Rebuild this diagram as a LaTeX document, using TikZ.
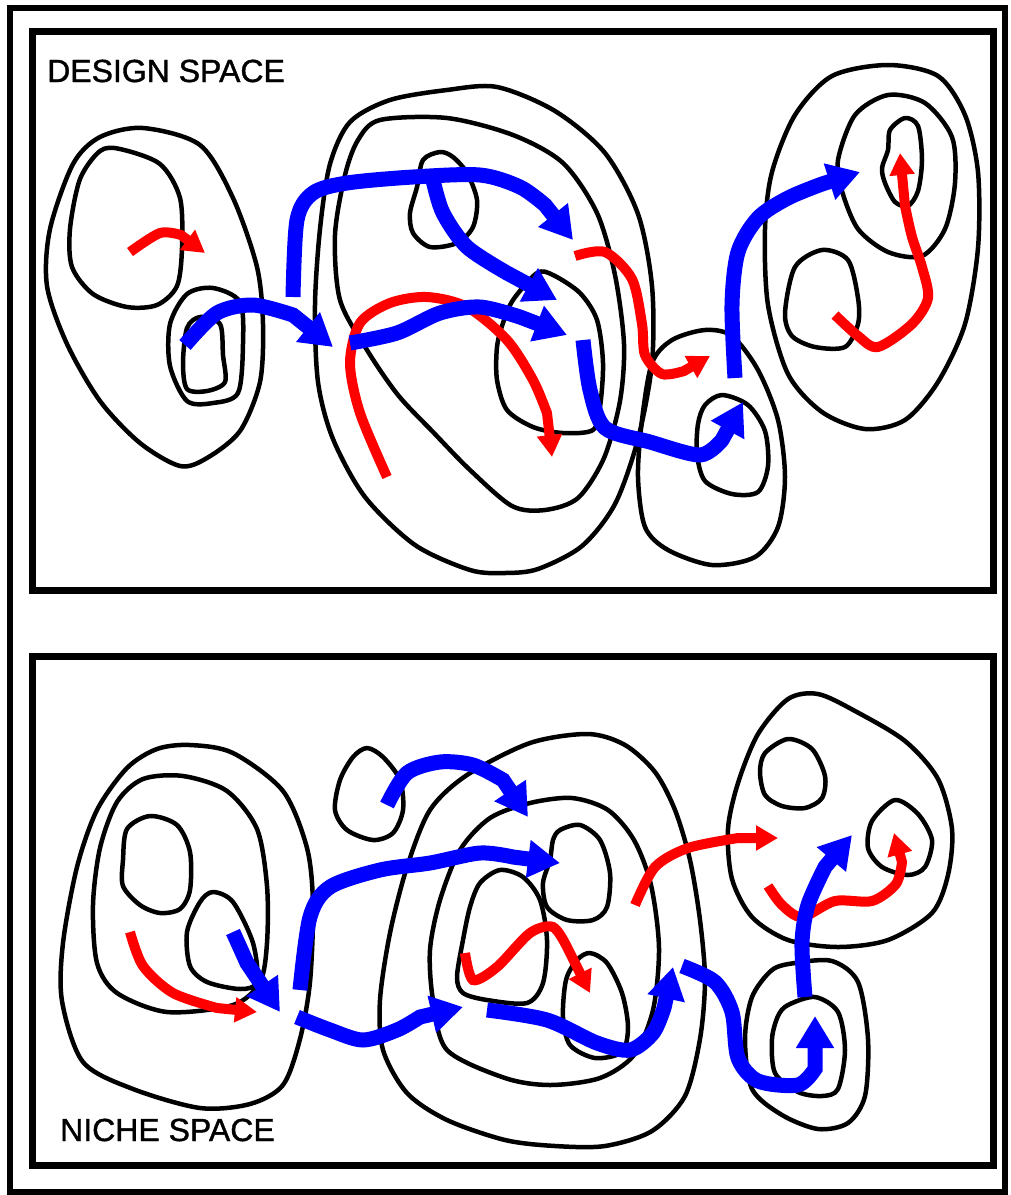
\documentclass[tikz,border=0pt]{standalone}
\usepackage{fontspec}
\setmainfont{Liberation Sans}
\newfontfamily\lblfont[FakeBold=1.2]{Liberation Sans}
\usetikzlibrary{arrows.meta}
\begin{document}
\begin{tikzpicture}[x=1pt,y=-1pt,
  contour/.style={draw=black,line width=4.5pt,line join=round},
  frame/.style={draw=black,line width=7pt},
  bluearr/.style={draw=blue,line width=15pt,-{Triangle[length=32pt,width=36pt]}},
  redarr/.style={draw=red,line width=10pt,-{Triangle[length=22pt,width=24pt]}},
  lbl/.style={anchor=base west,inner sep=0pt,font=\lblfont\fontsize{32}{36}\selectfont}]
\useasboundingbox (0,0) rectangle (1011,1195);
\fill[white] (0,0) rectangle (1011,1195);
% frames
\draw[black,line width=6pt] (10,8) rectangle (1005,1192);
\draw[frame] (32.5,31) rectangle (993,590);
\draw[frame] (32.5,656) rectangle (993,1165);
\node[lbl] (ds) at (47,82) {DESIGN SPACE};
\node[lbl] (ns) at (60,1141) {NICHE SPACE};

% ---------- top panel contours
\draw[contour] plot[smooth cycle] coordinates {(143,128) (200,145) (233,198) (257,267) (263,324) (260,382) (240,431) (207,458) (180,466) (140,443) (100,401) (67,344) (47,286) (50,229) (73,164) (100,137)};
\draw[contour] plot[smooth cycle] coordinates {(120,149) (160,164) (180,198) (182,248) (177,286) (157,305) (127,307) (93,294) (72,267) (70,229) (80,179) (100,151)};
\draw[contour] plot[smooth cycle] coordinates {(213,288) (240,302) (243,344) (238,393) (213,403) (187,401) (170,366) (170,324) (187,294)};
\draw[contour] plot[smooth cycle] coordinates {(200,317) (220,324) (223,355) (225,382) (207,391) (187,389) (183,363) (187,328)};
\draw[contour] plot[smooth cycle] coordinates {(447,90) (497,87) (555,111) (605,153) (638,214) (652,286) (652,363) (638,439) (615,504) (582,546) (538,569) (505,573) (470,570) (415,545) (365,497) (333,439) (318,382) (315,305) (320,229) (330,164) (350,122) (390,100)};
\draw[contour] plot[smooth cycle] coordinates {(380,120) (447,118) (513,135) (563,163) (597,213) (615,275) (624,344) (620,401) (604,458) (578,498) (545,510) (512,506) (470,470) (433,432) (398,395) (367,350) (340,300) (335,235) (345,175) (358,140)};
\draw[contour] plot[smooth cycle] coordinates {(423,160) (440,152) (453,157) (467,173) (477,200) (473,227) (457,243) (430,247) (413,233) (410,213) (417,187)};
\draw[contour] plot[smooth cycle] coordinates {(537,273) (553,275) (580,293) (597,320) (603,363) (600,407) (593,430) (563,433) (533,427) (507,410) (497,380) (497,347) (503,323) (513,300)};
\draw[contour] plot[smooth cycle] coordinates {(705,330) (732,336) (758,370) (778,420) (785,477) (778,527) (755,557) (712,565) (668,550) (645,527) (638,477) (642,420) (652,363) (672,340)};
\draw[contour] plot[smooth cycle] coordinates {(722,395) (748,405) (765,431) (768,466) (758,492) (732,494) (705,481) (697,454) (698,424) (705,405)};
\draw[contour] plot[smooth cycle] coordinates {(888,65) (938,76) (965,115) (978,172) (978,248) (965,324) (938,382) (905,420) (865,429) (822,412) (788,374) (768,305) (765,229) (772,172) (795,115) (832,76)};
\draw[contour] plot[smooth cycle] coordinates {(888,95) (925,103) (952,137) (955,183) (945,229) (922,256) (888,252) (858,229) (842,191) (838,160) (855,115)};
\draw[contour] plot[smooth cycle] coordinates {(905,118) (918,126) (922,160) (918,191) (908,206) (895,202) (885,183) (882,168) (888,150) (890,130)};
\draw[contour] plot[smooth cycle] coordinates {(822,250) (848,260) (858,298) (858,324) (845,347) (815,347) (792,336) (785,313) (795,267)};

% ---------- top panel arrows
\draw[redarr] plot[smooth] coordinates {(130,252) (160,233) (181,235)} -- (205,253);
\draw[redarr] plot[smooth] coordinates {(387,477) (360,413) (350,363) (360,323) (390,303) (427,297) (467,307) (507,340) (533,380) (547,413)} -- (552,457);
\draw[redarr] plot[smooth] coordinates {(575,256) (605,252) (632,279) (642,324) (645,355) (662,374) (684,371)} -- (710,356);
\draw[redarr] plot[smooth] coordinates {(835,315) (858,336) (878,347) (912,324) (928,298) (922,267) (912,237) (905,206)} -- (900,153);
\draw[bluearr] plot[smooth] coordinates {(185,345) (217,313) (253,305) (293,315)} -- (333,347);
\draw[bluearr] plot[smooth] coordinates {(293,297) (297,220) (313,193) (347,183) (413,177) (480,175) (520,187) (545,205)} -- (573,240);
\draw[bluearr] plot[smooth] coordinates {(433,180) (443,213) (467,247) (507,273)} -- (557,300);
\draw[bluearr] plot[smooth] coordinates {(350,343) (397,333) (440,313) (480,307) (520,317)} -- (567,335);
\draw[bluearr] plot[smooth] coordinates {(583,340) (590,390) (605,428) (650,442) (700,455) (722,440)} -- (743,402);
\draw[bluearr] plot[smooth] coordinates {(735,378) (732,305) (738,252) (758,218) (788,198) (822,184)} -- (860,172);

% ---------- bottom panel contours
\draw[contour] plot[smooth cycle] coordinates {(190,745) (233,753) (283,791) (307,848) (313,905) (310,982) (300,1039) (283,1085) (250,1104) (200,1108) (133,1089) (83,1062) (62,1001) (63,943) (77,867) (97,810) (127,768) (157,749)};
\draw[contour] plot[smooth cycle] coordinates {(183,776) (227,791) (257,829) (267,886) (267,943) (260,982) (233,1005) (167,1012) (117,993) (97,963) (93,905) (100,848) (117,802) (143,779)};
\draw[contour] plot[smooth cycle] coordinates {(150,816) (177,825) (190,852) (190,890) (180,909) (160,913) (140,905) (123,886) (123,860) (127,829)};
\draw[contour] plot[smooth cycle] coordinates {(213,892) (233,902) (253,943) (257,982) (240,989) (207,982) (190,966) (187,932) (200,902)};
\draw[contour] plot[smooth cycle] coordinates {(367,748) (383,757) (400,780) (403,810) (393,833) (373,840) (347,830) (335,810) (340,780) (353,757)};
\draw[contour] plot[smooth cycle] coordinates {(530,743) (588,734) (625,745) (655,772) (675,810) (690,860) (700,920) (705,980) (700,1039) (685,1096) (652,1131) (605,1146) (555,1146) (505,1140) (447,1120) (407,1093) (383,1050) (380,1000) (390,933) (407,867) (430,810) (467,775)};
\draw[contour] plot[smooth cycle] coordinates {(530,803) (572,798) (608,810) (634,840) (651,885) (659,948) (653,1010) (634,1055) (600,1078) (550,1085) (505,1078) (447,1050) (433,1000) (430,950) (440,900) (460,850) (490,818)};
\draw[contour] plot[smooth cycle] coordinates {(560,830) (580,825) (600,840) (610,873) (607,907) (593,920) (567,920) (547,907) (543,883) (550,860) (553,840)};
\draw[contour] plot[smooth cycle] coordinates {(500,870) (523,877) (540,900) (547,940) (543,983) (527,1003) (487,1000) (463,993) (457,977) (463,940) (470,907) (480,883)};
\draw[contour] plot[smooth cycle] coordinates {(590,953) (607,963) (622,993) (628,1027) (622,1052) (595,1058) (570,1045) (563,1017) (566,980) (577,960)};
\draw[contour] plot[smooth cycle] coordinates {(818,694) (855,711) (905,741) (938,779) (952,829) (948,875) (932,913) (888,940) (838,947) (788,940) (752,917) (732,879) (728,829) (738,783) (758,734) (788,699)};
\draw[contour] plot[smooth cycle] coordinates {(788,739) (812,749) (825,776) (822,798) (805,808) (782,806) (765,795) (760,772) (765,753)};
\draw[contour] plot[smooth cycle] coordinates {(895,800) (918,814) (932,840) (925,867) (908,875) (882,867) (868,848) (872,821)};
\draw[contour] plot[smooth cycle] coordinates {(795,963) (832,961) (858,982) (868,1039) (865,1096) (848,1123) (818,1129) (782,1115) (752,1089) (745,1039) (752,997) (772,970)};
\draw[contour] plot[smooth cycle] coordinates {(788,1005) (815,997) (838,1012) (845,1050) (838,1089) (822,1096) (798,1092) (775,1073) (772,1039) (778,1016)};

% ---------- bottom panel arrows
\draw[redarr] plot[smooth] coordinates {(130,932) (143,966) (173,993) (217,1008)} -- (257,1012);
\draw[redarr] plot[smooth] coordinates {(465,953) (473,980) (497,967) (530,933) (553,927) (567,947)} -- (590,993);
\draw[redarr] plot[smooth] coordinates {(635,905) (655,867) (688,848) (738,838)} -- (778,838);
\draw[redarr] plot[smooth] coordinates {(768,886) (782,905) (802,917) (835,901) (872,901) (896,884) (902,862)} -- (894,833);
\draw[bluearr] plot[smooth] coordinates {(387,805) (407,773) (440,762) (473,765) (503,780)} -- (528,817);
\draw[bluearr] plot[smooth] coordinates {(300,990) (310,917) (330,887) (380,870) (430,863) (480,853) (513,857)} -- (560,863);
\draw[bluearr] plot[smooth] coordinates {(233,932) (247,963)} -- (280,1012);
\draw[bluearr] plot[smooth] coordinates {(297,1017) (330,1030) (363,1040) (397,1030) (420,1017)} -- (463,1007);
\draw[bluearr] plot[smooth] coordinates {(487,1010) (547,1020) (597,1043) (630,1050) (653,1033) (664,1008)} -- (673,967);
\draw[bluearr] plot[smooth] coordinates {(682,966) (715,982) (732,1012) (738,1058) (758,1081) (798,1085) (815,1069)} -- (815,1016);
\draw[bluearr] plot[smooth] coordinates {(805,997) (802,943) (808,905) (825,867)} -- (852,835);
\end{tikzpicture}
\end{document}
